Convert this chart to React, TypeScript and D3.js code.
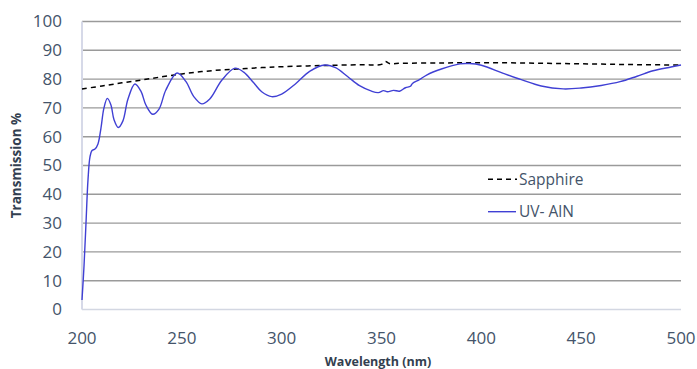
import React from "react";
import * as d3 from "d3";

const xTicks = [200, 250, 300, 350, 400, 450, 500];
const yTicks = [0, 10, 20, 30, 40, 50, 60, 70, 80, 90, 100];

const sapphireX = [200, 210, 220, 230, 240, 250, 260, 270, 280, 290, 300, 320, 340, 350, 352, 354, 360, 380, 400, 420, 440, 460, 480, 500];
const sapphireY = [76.6, 77.6, 78.7, 79.7, 80.8, 81.8, 82.6, 83.2, 83.6, 84.0, 84.3, 84.7, 85.0, 85.1, 86.1, 85.4, 85.5, 85.6, 85.7, 85.6, 85.4, 85.2, 85.0, 84.9];

const alnX = [200, 201, 202, 203, 204, 205, 206.5, 208, 209.5, 211, 212.7, 214.5, 216, 218.2, 220.5, 223, 226.5, 229.5, 232, 235.4, 238.5, 242, 247.6, 252, 256, 260, 264, 270, 276.6, 281, 286, 290, 295, 300, 307, 314, 321.7, 327, 333, 339, 345, 348.4, 351, 353, 356, 359, 362, 364.5, 365.5, 369, 372.6, 380, 389.3, 394, 400, 411, 420, 430, 441, 450, 460, 469.5, 478, 486, 495, 500];
const alnY = [3.3, 15, 30, 45, 53, 55.2, 55.7, 57.5, 63, 70, 73.3, 71, 66, 63.2, 65.5, 73, 78.3, 75.8, 71, 67.8, 69.5, 76.2, 82.1, 79.2, 73.9, 71.4, 73.1, 79.6, 83.8, 82.4, 78.7, 75.6, 73.9, 74.8, 78.4, 82.7, 84.9, 84.0, 80.9, 77.7, 75.8, 75.3, 76, 75.6, 76.1, 75.8, 77, 77.5, 78.5, 79.8, 81.4, 83.5, 85.3, 85.4, 84.8, 82, 79.8, 77.6, 76.6, 76.9, 77.8, 79.1, 81, 82.9, 84.2, 84.9];

const legendNames = ["Sapphire", "UV- AlN"];

export default function App() {
  const W = 697, H = 369;
  const left = 82, right = 681, top = 21.5, bottom = 309.5;
  const x = d3.scaleLinear().domain([200, 500]).range([left, right]);
  const y = d3.scaleLinear().domain([0, 100]).range([bottom, top]);

  const sapphire = sapphireX.map((v, i) => [v, sapphireY[i]] as [number, number]);
  const aln = alnX.map((v, i) => [v, alnY[i]] as [number, number]);

  const line = d3.line<[number, number]>().x(d => x(d[0])).y(d => y(d[1])).curve(d3.curveCatmullRom.alpha(0.5));
  const textColor = "#44546a";
  const font = "'Open Sans', sans-serif";

  return (
    <svg width={W} height={H} style={{ position: "absolute", left: 0, top: 0, background: "#fff" }} fontFamily={font}>
      {yTicks.filter(t => t > 0).map(t => (
        <line key={t} x1={left} x2={right} y1={y(t)} y2={y(t)} stroke="#9a9a9a" strokeWidth={1.4} />
      ))}
      <line x1={left} x2={right} y1={bottom} y2={bottom} stroke="#d3d7e2" strokeWidth={1.5} />
      <line x1={left} x2={left} y1={top} y2={bottom} stroke="#d6d9e8" strokeWidth={2} />
      {yTicks.map(t => (
        <text key={t} x={62} y={y(t)} dy="0.35em" textAnchor="end" fontSize={17} fill={textColor}>{t}</text>
      ))}
      {xTicks.map(t => (
        <text key={t} x={x(t)} y={338} dy="0.35em" textAnchor="middle" fontSize={17} fill={textColor}>{t}</text>
      ))}
      <text x={378} y={362} dy="0.35em" textAnchor="middle" fontSize={12.5} fontWeight="bold" fill="#333f50">Wavelength (nm)</text>
      <text transform={`translate(16.5,165.5) rotate(-90)`} textAnchor="middle" dy="0.35em" fontSize={13.5} fontWeight="bold" fill="#333f50">Transmission %</text>

      <path d={line(sapphire) || ""} fill="none" stroke="#000" strokeWidth={1.5} strokeDasharray="5,4" />
      <path d={line(aln) || ""} fill="none" stroke="#4040d4" strokeWidth={1.4} />

      <line x1={488} x2={517} y1={179.3} y2={179.3} stroke="#000" strokeWidth={1.5} strokeDasharray="5,4" />
      <text x={519} y={179.3} dy="0.35em" fontSize={15.5} fill={textColor}>{legendNames[0]}</text>
      <line x1={488} x2={516} y1={211.7} y2={211.7} stroke="#4040d4" strokeWidth={1.4} />
      <text x={519} y={211.7} dy="0.35em" fontSize={15.5} fill={textColor}>{legendNames[1]}</text>
    </svg>
  );
}
